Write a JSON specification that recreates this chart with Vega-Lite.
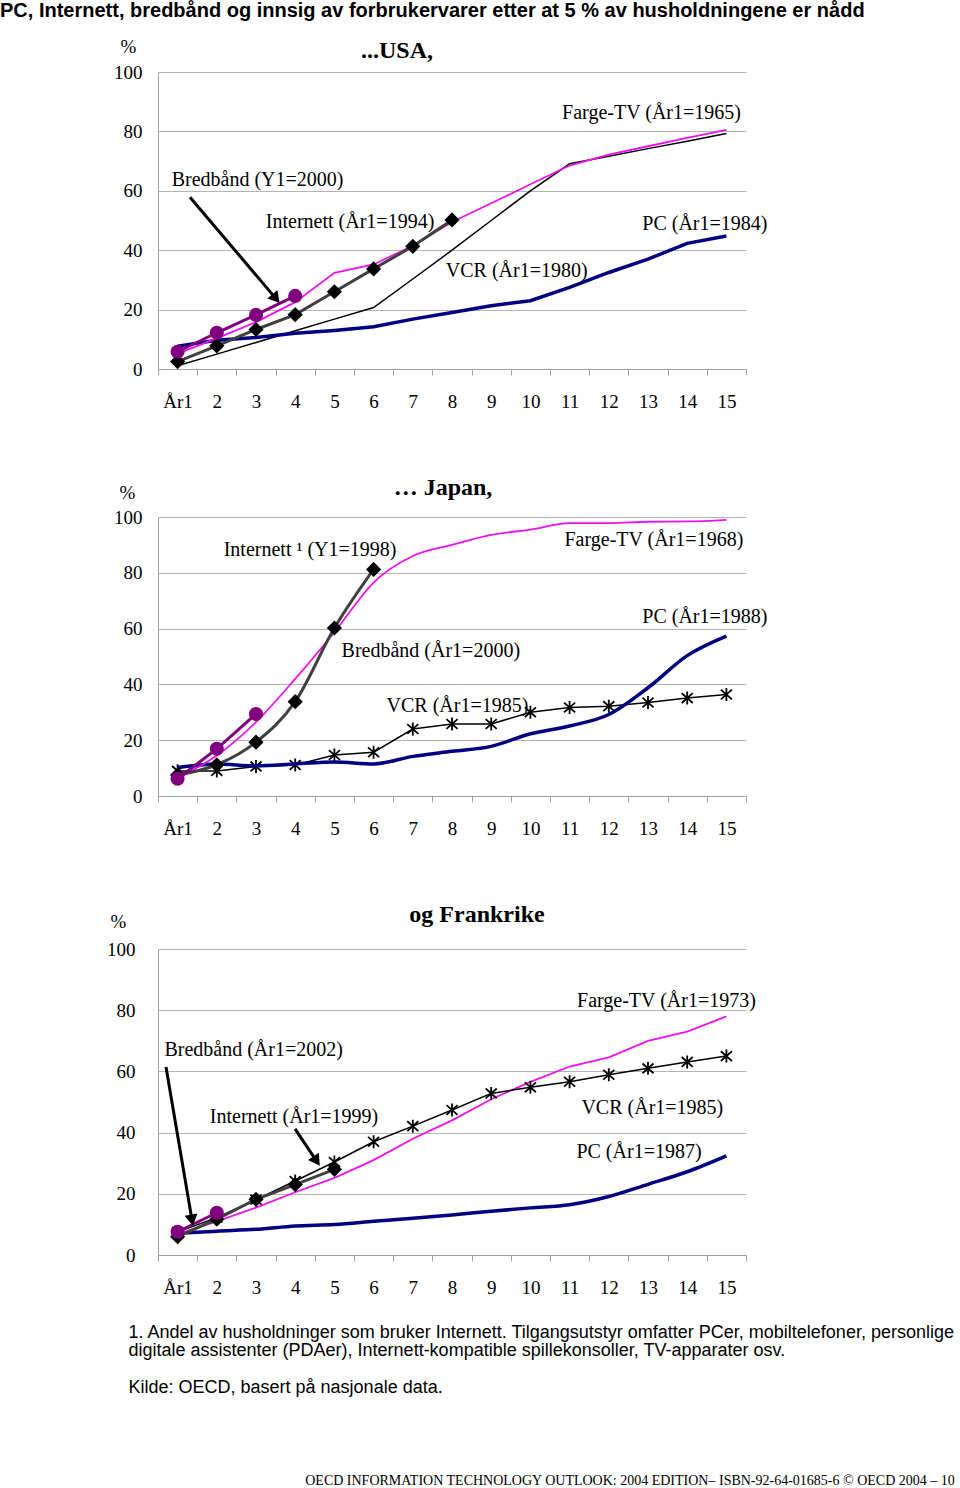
{
  "$schema": "https://vega.github.io/schema/vega-lite/v6.json",
  "padding": {"left": 0, "top": 1, "right": 0, "bottom": 0},
  "background": "white",
  "config": {
    "view": {"stroke": null},
    "font": "Liberation Serif",
    "text": {"font": "Liberation Serif", "fontSize": 20, "color": "black"}
  },
  "datasets": {
    "usa": [
      {"s": "PC", "x": 1, "y": 7.7}, {"s": "PC", "x": 2, "y": 9.7}, {"s": "PC", "x": 3, "y": 10.6}, {"s": "PC", "x": 4, "y": 12}, {"s": "PC", "x": 5, "y": 13}, {"s": "PC", "x": 6, "y": 14.2}, {"s": "PC", "x": 7, "y": 16.8}, {"s": "PC", "x": 8, "y": 19}, {"s": "PC", "x": 9, "y": 21.3}, {"s": "PC", "x": 10, "y": 23}, {"s": "PC", "x": 11, "y": 27.5}, {"s": "PC", "x": 12, "y": 32.5}, {"s": "PC", "x": 13, "y": 37}, {"s": "PC", "x": 14, "y": 42.3}, {"s": "PC", "x": 15, "y": 44.8},
      {"s": "VCR", "x": 1, "y": 1.1}, {"s": "VCR", "x": 2, "y": 5}, {"s": "VCR", "x": 3, "y": 8.9}, {"s": "VCR", "x": 4, "y": 12.9}, {"s": "VCR", "x": 5, "y": 16.8}, {"s": "VCR", "x": 6, "y": 20.7}, {"s": "VCR", "x": 7, "y": 30.3}, {"s": "VCR", "x": 8, "y": 40}, {"s": "VCR", "x": 9, "y": 50}, {"s": "VCR", "x": 10, "y": 60}, {"s": "VCR", "x": 11, "y": 69.1}, {"s": "VCR", "x": 12, "y": 71.6}, {"s": "VCR", "x": 13, "y": 74.2}, {"s": "VCR", "x": 14, "y": 76.7}, {"s": "VCR", "x": 15, "y": 79.3},
      {"s": "TV", "x": 1, "y": 5.2}, {"s": "TV", "x": 2, "y": 10.3}, {"s": "TV", "x": 3, "y": 15.8}, {"s": "TV", "x": 4, "y": 22.5}, {"s": "TV", "x": 5, "y": 32.4}, {"s": "TV", "x": 6, "y": 35.2}, {"s": "TV", "x": 7, "y": 41.5}, {"s": "TV", "x": 8, "y": 49.5}, {"s": "TV", "x": 9, "y": 55.8}, {"s": "TV", "x": 10, "y": 62.2}, {"s": "TV", "x": 11, "y": 68.5}, {"s": "TV", "x": 12, "y": 72.2}, {"s": "TV", "x": 13, "y": 75}, {"s": "TV", "x": 14, "y": 77.8}, {"s": "TV", "x": 15, "y": 80.5},
      {"s": "Internett", "x": 1, "y": 2.5}, {"s": "Internett", "x": 2, "y": 7.8}, {"s": "Internett", "x": 3, "y": 13.3}, {"s": "Internett", "x": 4, "y": 18.3}, {"s": "Internett", "x": 5, "y": 26}, {"s": "Internett", "x": 6, "y": 33.7}, {"s": "Internett", "x": 7, "y": 41.3}, {"s": "Internett", "x": 8, "y": 50.2},
      {"s": "Bredband", "x": 1, "y": 5.8}, {"s": "Bredband", "x": 2, "y": 12.2}, {"s": "Bredband", "x": 3, "y": 18.2}, {"s": "Bredband", "x": 4, "y": 24.6}
    ],
    "japan": [
      {"s": "PC", "x": 1, "y": 10.2}, {"s": "PC", "x": 2, "y": 11.5}, {"s": "PC", "x": 3, "y": 10.8}, {"s": "PC", "x": 4, "y": 11.5}, {"s": "PC", "x": 5, "y": 12.2}, {"s": "PC", "x": 6, "y": 11.5}, {"s": "PC", "x": 7, "y": 14.2}, {"s": "PC", "x": 8, "y": 16}, {"s": "PC", "x": 9, "y": 17.8}, {"s": "PC", "x": 10, "y": 22.3}, {"s": "PC", "x": 11, "y": 25.1}, {"s": "PC", "x": 12, "y": 29.2}, {"s": "PC", "x": 13, "y": 38.8}, {"s": "PC", "x": 14, "y": 50.3}, {"s": "PC", "x": 15, "y": 57.3},
      {"s": "VCR", "x": 1, "y": 9}, {"s": "VCR", "x": 2, "y": 9}, {"s": "VCR", "x": 3, "y": 10.6}, {"s": "VCR", "x": 4, "y": 11.1}, {"s": "VCR", "x": 5, "y": 14.7}, {"s": "VCR", "x": 6, "y": 15.7}, {"s": "VCR", "x": 7, "y": 24}, {"s": "VCR", "x": 8, "y": 25.8}, {"s": "VCR", "x": 9, "y": 25.8}, {"s": "VCR", "x": 10, "y": 30}, {"s": "VCR", "x": 11, "y": 31.7}, {"s": "VCR", "x": 12, "y": 32.2}, {"s": "VCR", "x": 13, "y": 33.5}, {"s": "VCR", "x": 14, "y": 35.1}, {"s": "VCR", "x": 15, "y": 36.4},
      {"s": "TV", "x": 1, "y": 6.5}, {"s": "TV", "x": 2, "y": 14.5}, {"s": "TV", "x": 3, "y": 26.5}, {"s": "TV", "x": 4, "y": 42}, {"s": "TV", "x": 5, "y": 58.7}, {"s": "TV", "x": 6, "y": 76.5}, {"s": "TV", "x": 7, "y": 86}, {"s": "TV", "x": 8, "y": 90}, {"s": "TV", "x": 9, "y": 93.6}, {"s": "TV", "x": 10, "y": 95.5}, {"s": "TV", "x": 11, "y": 97.8}, {"s": "TV", "x": 12, "y": 97.8}, {"s": "TV", "x": 13, "y": 98.3}, {"s": "TV", "x": 14, "y": 98.4}, {"s": "TV", "x": 15, "y": 99},
      {"s": "Internett", "x": 1, "y": 7.5}, {"s": "Internett", "x": 2, "y": 11.2}, {"s": "Internett", "x": 3, "y": 19.3}, {"s": "Internett", "x": 4, "y": 33.8}, {"s": "Internett", "x": 5, "y": 60.2}, {"s": "Internett", "x": 6, "y": 81.2},
      {"s": "Bredband", "x": 1, "y": 6.2}, {"s": "Bredband", "x": 2, "y": 16.9}, {"s": "Bredband", "x": 3, "y": 29.4}
    ],
    "france": [
      {"s": "PC", "x": 1, "y": 7.1}, {"s": "PC", "x": 2, "y": 7.8}, {"s": "PC", "x": 3, "y": 8.4}, {"s": "PC", "x": 4, "y": 9.5}, {"s": "PC", "x": 5, "y": 10}, {"s": "PC", "x": 6, "y": 11}, {"s": "PC", "x": 7, "y": 12}, {"s": "PC", "x": 8, "y": 13.1}, {"s": "PC", "x": 9, "y": 14.3}, {"s": "PC", "x": 10, "y": 15.4}, {"s": "PC", "x": 11, "y": 16.4}, {"s": "PC", "x": 12, "y": 19.1}, {"s": "PC", "x": 13, "y": 23.1}, {"s": "PC", "x": 14, "y": 27.2}, {"s": "PC", "x": 15, "y": 32.4},
      {"s": "VCR", "x": 1, "y": 7.5}, {"s": "VCR", "x": 2, "y": 12.2}, {"s": "VCR", "x": 3, "y": 18.1}, {"s": "VCR", "x": 4, "y": 24.2}, {"s": "VCR", "x": 5, "y": 30.4}, {"s": "VCR", "x": 6, "y": 37}, {"s": "VCR", "x": 7, "y": 42.1}, {"s": "VCR", "x": 8, "y": 47.4}, {"s": "VCR", "x": 9, "y": 52.8}, {"s": "VCR", "x": 10, "y": 54.8}, {"s": "VCR", "x": 11, "y": 56.6}, {"s": "VCR", "x": 12, "y": 58.9}, {"s": "VCR", "x": 13, "y": 61}, {"s": "VCR", "x": 14, "y": 63.1}, {"s": "VCR", "x": 15, "y": 65},
      {"s": "TV", "x": 1, "y": 6.8}, {"s": "TV", "x": 2, "y": 11}, {"s": "TV", "x": 3, "y": 15.5}, {"s": "TV", "x": 4, "y": 20.5}, {"s": "TV", "x": 5, "y": 25.2}, {"s": "TV", "x": 6, "y": 31}, {"s": "TV", "x": 7, "y": 38}, {"s": "TV", "x": 8, "y": 44}, {"s": "TV", "x": 9, "y": 50.9}, {"s": "TV", "x": 10, "y": 56.6}, {"s": "TV", "x": 11, "y": 61.6}, {"s": "TV", "x": 12, "y": 64.6}, {"s": "TV", "x": 13, "y": 70}, {"s": "TV", "x": 14, "y": 73}, {"s": "TV", "x": 15, "y": 78},
      {"s": "Internett", "x": 1, "y": 6}, {"s": "Internett", "x": 2, "y": 11.7}, {"s": "Internett", "x": 3, "y": 18.2}, {"s": "Internett", "x": 4, "y": 23}, {"s": "Internett", "x": 5, "y": 28},
      {"s": "Bredband", "x": 1, "y": 7.6}, {"s": "Bredband", "x": 2, "y": 13.8}
    ],
    "usa_labels": [
      {"x": 3.04, "y": 63.5, "t": "Bredbånd (Y1=2000)"},
      {"x": 5.4, "y": 49.4, "t": "Internett (År1=1994)"},
      {"x": 9.65, "y": 32.9, "t": "VCR (År1=1980)"},
      {"x": 13.09, "y": 86.1, "t": "Farge-TV (År1=1965)"},
      {"x": 14.45, "y": 48.7, "t": "PC (År1=1984)"}
    ],
    "japan_labels": [
      {"x": 4.38, "y": 88.2, "t": "Internett ¹ (Y1=1998)"},
      {"x": 13.15, "y": 91.8, "t": "Farge-TV (År1=1968)"},
      {"x": 14.45, "y": 64.2, "t": "PC (År1=1988)"},
      {"x": 7.46, "y": 52.0, "t": "Bredbånd (År1=2000)"},
      {"x": 8.14, "y": 32.3, "t": "VCR (År1=1985)"}
    ],
    "france_labels": [
      {"x": 13.47, "y": 83.0, "t": "Farge-TV (År1=1973)"},
      {"x": 2.94, "y": 67.0, "t": "Bredbånd (År1=2002)"},
      {"x": 3.97, "y": 45.1, "t": "Internett (År1=1999)"},
      {"x": 13.11, "y": 48.0, "t": "VCR (År1=1985)"},
      {"x": 12.77, "y": 33.7, "t": "PC (År1=1987)"}
    ],
    "usa_arrows": [
      {"a": "Bredband", "x": 1.316, "y": 57.8, "x2": 3.51, "y2": 23.7}
    ],
    "france_arrows": [
      {"a": "Bredband", "x": 0.704, "y": 61.4, "x2": 1.367, "y2": 11.4},
      {"a": "Internett", "x": 3.995, "y": 41.2, "x2": 4.546, "y2": 30.7}
    ]
  },
  "title": {
    "text": "OECD INFORMATION TECHNOLOGY OUTLOOK: 2004 EDITION– ISBN-92-64-01685-6 © OECD 2004 – 10",
    "orient": "bottom", "anchor": "end", "font": "Liberation Serif", "fontSize": 14, "fontWeight": "normal", "color": "black", "offset": 77
  },
  "vconcat": [
    {
      "title": {
        "text": "PC, Internett, bredbånd og innsig av forbrukervarer etter at 5 % av husholdningene er nådd",
        "anchor": "start", "font": "Liberation Sans", "fontSize": 20, "fontWeight": "bold", "color": "black", "dx": -106, "offset": 16
      },
      "columns": 1,
      "align": "none",
      "spacing": 65,
      "concat": [
        {
          "width": 588, "height": 297,
          "title": {"text": "...USA,", "font": "Liberation Serif", "fontSize": 24, "fontWeight": "bold", "color": "black", "anchor": "middle", "dx": -55, "offset": -26},
          "encoding": {
            "x": {"field": "x", "type": "quantitative", "scale": {"domain": [0.5, 15.5], "nice": false, "zero": false},
              "axis": {"title": null, "values": [0.5, 1, 1.5, 2, 2.5, 3, 3.5, 4, 4.5, 5, 5.5, 6, 6.5, 7, 7.5, 8, 8.5, 9, 9.5, 10, 10.5, 11, 11.5, 12, 12.5, 13, 13.5, 14, 14.5, 15, 15.5],
                "labelExpr": "datum.value % 1 !== 0 ? '' : (datum.value == 1 ? 'År1' : format(datum.value, 'd'))",
                "tickOpacity": {"condition": {"test": "datum.value % 1 !== 0", "value": 1}, "value": 0},
                "tickSize": 6, "tickColor": "#a0a0a0", "domainColor": "#a0a0a0", "grid": false,
                "labelFont": "Liberation Serif", "labelFontSize": 19, "labelColor": "black", "labelPadding": 17, "labelOverlap": false, "labelFlush": false, "labelBound": false}},
            "y": {"field": "y", "type": "quantitative", "scale": {"domain": [0, 100], "nice": false},
              "axis": {"title": "%", "titleAngle": 0, "titleX": -30, "titleY": -26, "titleAlign": "center", "titleBaseline": "middle", "titleFont": "Liberation Serif", "titleFontSize": 19, "titleFontWeight": "normal", "titleColor": "black",
                "values": [0, 20, 40, 60, 80, 100], "ticks": false, "grid": true, "gridColor": "#b4b4b4", "domainColor": "#a0a0a0",
                "labelFont": "Liberation Serif", "labelFontSize": 19, "labelColor": "black", "labelPadding": 16, "minExtent": 52}}
          },
          "layer": [
            {"data": {"name": "usa"}, "transform": [{"filter": "datum.s == 'VCR'"}], "mark": {"type": "line", "color": "black", "strokeWidth": 1.5}},
            {"data": {"name": "usa"}, "transform": [{"filter": "datum.s == 'PC'"}], "mark": {"type": "line", "color": "#000080", "strokeWidth": 3.5}},
            {"data": {"name": "usa"}, "transform": [{"filter": "datum.s == 'TV'"}], "mark": {"type": "line", "color": "#ee11ee", "strokeWidth": 1.8}},
            {"data": {"name": "usa"}, "transform": [{"filter": "datum.s == 'Internett'"}], "mark": {"type": "line", "color": "#404040", "strokeWidth": 3, "point": {"shape": "diamond", "filled": true, "color": "black", "size": 230}}},
            {"data": {"name": "usa"}, "transform": [{"filter": "datum.s == 'Bredband'"}], "mark": {"type": "line", "color": "#800080", "strokeWidth": 3, "point": {"shape": "circle", "filled": true, "color": "#800080", "size": 200}}},
            {"data": {"name": "usa_labels"}, "mark": {"type": "text", "align": "center", "baseline": "middle"}, "encoding": {"text": {"field": "t"}}},
            {"data": {"name": "usa_arrows"}, "mark": {"type": "rule", "color": "black", "strokeWidth": 3}, "encoding": {"x2": {"field": "x2"}, "y2": {"field": "y2"}}},
            {"data": {"name": "usa_arrows"}, "mark": {"type": "point", "shape": "triangle-up", "filled": true, "color": "black", "size": 170, "angle": 140, "opacity": 1}, "encoding": {"x": {"field": "x2", "type": "quantitative"}, "y": {"field": "y2", "type": "quantitative"}}}
          ]
        },
        {
          "width": 588, "height": 279,
          "title": {"text": "… Japan,", "font": "Liberation Serif", "fontSize": 24, "fontWeight": "bold", "color": "black", "anchor": "middle", "dx": -9, "offset": -17},
          "encoding": {
            "x": {"field": "x", "type": "quantitative", "scale": {"domain": [0.5, 15.5], "nice": false, "zero": false},
              "axis": {"title": null, "values": [0.5, 1, 1.5, 2, 2.5, 3, 3.5, 4, 4.5, 5, 5.5, 6, 6.5, 7, 7.5, 8, 8.5, 9, 9.5, 10, 10.5, 11, 11.5, 12, 12.5, 13, 13.5, 14, 14.5, 15, 15.5],
                "labelExpr": "datum.value % 1 !== 0 ? '' : (datum.value == 1 ? 'År1' : format(datum.value, 'd'))",
                "tickOpacity": {"condition": {"test": "datum.value % 1 !== 0", "value": 1}, "value": 0},
                "tickSize": 6, "tickColor": "#a0a0a0", "domainColor": "#a0a0a0", "grid": false,
                "labelFont": "Liberation Serif", "labelFontSize": 19, "labelColor": "black", "labelPadding": 17, "labelOverlap": false, "labelFlush": false, "labelBound": false}},
            "y": {"field": "y", "type": "quantitative", "scale": {"domain": [0, 100], "nice": false},
              "axis": {"title": "%", "titleAngle": 0, "titleX": -31, "titleY": -25, "titleAlign": "center", "titleBaseline": "middle", "titleFont": "Liberation Serif", "titleFontSize": 19, "titleFontWeight": "normal", "titleColor": "black",
                "values": [0, 20, 40, 60, 80, 100], "ticks": false, "grid": true, "gridColor": "#b4b4b4", "domainColor": "#a0a0a0",
                "labelFont": "Liberation Serif", "labelFontSize": 19, "labelColor": "black", "labelPadding": 16, "minExtent": 52}}
          },
          "layer": [
            {"data": {"name": "japan"}, "transform": [{"filter": "datum.s == 'VCR'"}], "mark": {"type": "line", "color": "black", "strokeWidth": 1.5}},
            {"data": {"name": "japan"}, "transform": [{"filter": "datum.s == 'VCR'"}], "mark": {"type": "point", "shape": "M0,-1L0,1M-0.85,-0.75L0.85,0.75M-0.85,0.75L0.85,-0.75", "filled": false, "color": "black", "strokeWidth": 1.8, "size": 170, "opacity": 1}},
            {"data": {"name": "japan"}, "transform": [{"filter": "datum.s == 'PC'"}], "mark": {"type": "line", "color": "#000080", "strokeWidth": 3.5, "interpolate": "monotone"}},
            {"data": {"name": "japan"}, "transform": [{"filter": "datum.s == 'TV'"}], "mark": {"type": "line", "color": "#ee11ee", "strokeWidth": 1.8, "interpolate": "monotone"}},
            {"data": {"name": "japan"}, "transform": [{"filter": "datum.s == 'Internett'"}], "mark": {"type": "line", "color": "#404040", "strokeWidth": 3, "interpolate": "monotone", "point": {"shape": "diamond", "filled": true, "color": "black", "size": 230}}},
            {"data": {"name": "japan"}, "transform": [{"filter": "datum.s == 'Bredband'"}], "mark": {"type": "line", "color": "#800080", "strokeWidth": 3, "point": {"shape": "circle", "filled": true, "color": "#800080", "size": 200}}},
            {"data": {"name": "japan_labels"}, "mark": {"type": "text", "align": "center", "baseline": "middle"}, "encoding": {"text": {"field": "t"}}}
          ]
        },
        {
          "width": 588, "height": 306,
          "title": {"text": "og Frankrike", "font": "Liberation Serif", "fontSize": 24, "fontWeight": "bold", "color": "black", "anchor": "middle", "dx": 25, "offset": -15},
          "encoding": {
            "x": {"field": "x", "type": "quantitative", "scale": {"domain": [0.5, 15.5], "nice": false, "zero": false},
              "axis": {"values": [0.5, 1, 1.5, 2, 2.5, 3, 3.5, 4, 4.5, 5, 5.5, 6, 6.5, 7, 7.5, 8, 8.5, 9, 9.5, 10, 10.5, 11, 11.5, 12, 12.5, 13, 13.5, 14, 14.5, 15, 15.5],
                "labelExpr": "datum.value % 1 !== 0 ? '' : (datum.value == 1 ? 'År1' : format(datum.value, 'd'))",
                "tickOpacity": {"condition": {"test": "datum.value % 1 !== 0", "value": 1}, "value": 0},
                "tickSize": 6, "tickColor": "#a0a0a0", "domainColor": "#a0a0a0", "grid": false,
                "labelFont": "Liberation Serif", "labelFontSize": 19, "labelColor": "black", "labelPadding": 17, "labelOverlap": false, "labelFlush": false, "labelBound": false,
                "title": ["1. Andel av husholdninger som bruker Internett. Tilgangsutstyr omfatter PCer, mobiltelefoner, personlige", "digitale assistenter (PDAer), Internett-kompatible spillekonsoller, TV-apparater osv.", "\u2800", "Kilde: OECD, basert på nasjonale data."],
                "titleX": -30, "titleY": 68, "titleAlign": "left", "titleAnchor": "start", "titleBaseline": "top", "titleFont": "Liberation Sans", "titleFontSize": 18, "titleFontWeight": "normal", "titleColor": "black", "titleLineHeight": 18.5}},
            "y": {"field": "y", "type": "quantitative", "scale": {"domain": [0, 100], "nice": false},
              "axis": {"title": "%", "titleAngle": 0, "titleX": -40, "titleY": -28, "titleAlign": "center", "titleBaseline": "middle", "titleFont": "Liberation Serif", "titleFontSize": 19, "titleFontWeight": "normal", "titleColor": "black",
                "values": [0, 20, 40, 60, 80, 100], "ticks": false, "grid": true, "gridColor": "#b4b4b4", "domainColor": "#a0a0a0",
                "labelFont": "Liberation Serif", "labelFontSize": 19, "labelColor": "black", "labelPadding": 23, "minExtent": 52}}
          },
          "layer": [
            {"data": {"name": "france"}, "transform": [{"filter": "datum.s == 'PC'"}], "mark": {"type": "line", "color": "#000080", "strokeWidth": 3.5, "interpolate": "monotone"}},
            {"data": {"name": "france"}, "transform": [{"filter": "datum.s == 'TV'"}], "mark": {"type": "line", "color": "#ee11ee", "strokeWidth": 1.8}},
            {"data": {"name": "france"}, "transform": [{"filter": "datum.s == 'VCR'"}], "mark": {"type": "line", "color": "black", "strokeWidth": 1.5}},
            {"data": {"name": "france"}, "transform": [{"filter": "datum.s == 'VCR'"}], "mark": {"type": "point", "shape": "M0,-1L0,1M-0.85,-0.75L0.85,0.75M-0.85,0.75L0.85,-0.75", "filled": false, "color": "black", "strokeWidth": 1.8, "size": 170, "opacity": 1}},
            {"data": {"name": "france"}, "transform": [{"filter": "datum.s == 'Internett'"}], "mark": {"type": "line", "color": "#404040", "strokeWidth": 3, "point": {"shape": "diamond", "filled": true, "color": "black", "size": 230}}},
            {"data": {"name": "france"}, "transform": [{"filter": "datum.s == 'Bredband'"}], "mark": {"type": "line", "color": "#800080", "strokeWidth": 3, "point": {"shape": "circle", "filled": true, "color": "#800080", "size": 200}}},
            {"data": {"name": "france_labels"}, "mark": {"type": "text", "align": "center", "baseline": "middle"}, "encoding": {"text": {"field": "t"}}},
            {"data": {"name": "france_arrows"}, "mark": {"type": "rule", "color": "black", "strokeWidth": 3}, "encoding": {"x2": {"field": "x2"}, "y2": {"field": "y2"}}},
            {"data": {"name": "france_arrows"}, "transform": [{"filter": "datum.a == 'Bredband'"}], "mark": {"type": "point", "shape": "triangle-up", "filled": true, "color": "black", "size": 170, "angle": 170, "opacity": 1}, "encoding": {"x": {"field": "x2", "type": "quantitative"}, "y": {"field": "y2", "type": "quantitative"}}},
            {"data": {"name": "france_arrows"}, "transform": [{"filter": "datum.a == 'Internett'"}], "mark": {"type": "point", "shape": "triangle-up", "filled": true, "color": "black", "size": 170, "angle": 146, "opacity": 1}, "encoding": {"x": {"field": "x2", "type": "quantitative"}, "y": {"field": "y2", "type": "quantitative"}}}
          ]
        }
      ]
    }
  ]
}
